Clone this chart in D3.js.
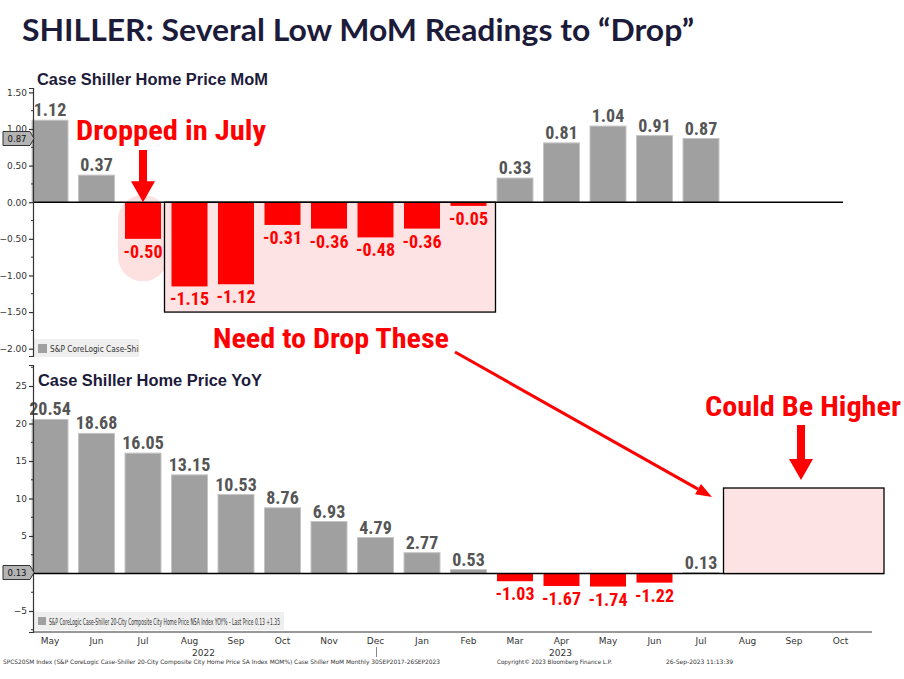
<!DOCTYPE html>
<html>
<head>
<meta charset="utf-8">
<script src="https://cdn.jsdelivr.net/npm/d3@7"></script>
<style>
  html, body { margin: 0; padding: 0; background: #ffffff; }
  svg { display: block; }
</style>
</head>
<body>
<svg id="chart" width="904" height="679"></svg>
<script>
// ---------------- DATA ----------------
const periods = ["2022-05","2022-06","2022-07","2022-08","2022-09","2022-10","2022-11","2022-12",
                 "2023-01","2023-02","2023-03","2023-04","2023-05","2023-06","2023-07","2023-08","2023-09","2023-10"];
const monthLabels = ["May","Jun","Jul","Aug","Sep","Oct","Nov","Dec","Jan","Feb","Mar","Apr","May","Jun","Jul","Aug","Sep","Oct"];
const momValues = [1.12, 0.37, -0.50, -1.15, -1.12, -0.31, -0.36, -0.48, -0.36, -0.05, 0.33, 0.81, 1.04, 0.91, 0.87];
const yoyValues = [20.54, 18.68, 16.05, 13.15, 10.53, 8.76, 6.93, 4.79, 2.77, 0.53, -1.03, -1.67, -1.74, -1.22, 0.13];
const momTicks = [1.5, 1.0, 0.5, 0, -0.5, -1.0, -1.5, -2.0];
const yoyTicks = [25, 20, 15, 10, 5, 0, -5];
const yearLabels = [{label: "2022", period: "2022-08", offset: 0.3}, {label: "2023", period: "2023-04", offset: -0.02}];
const momLast = 0.87;
const yoyLast = 0.13;

// ---------------- SETUP ----------------
const svg = d3.select("#chart");
const navy = "#1d1b3a";
const red = "#ff0000";
const grey = "#a0a0a0";
const pink = "#fde3e3";
const labelFont = "'Liberation Sans Narrow','Arial Narrow','Roboto Condensed','Liberation Sans',sans-serif";
const axisFont = "'DejaVu Sans',Tahoma,sans-serif";

const x = d3.scaleBand().domain(periods).range([26.75, 863.75]).paddingInner(0.226).paddingOuter(0.113);
const xc = p => x(p) + x.bandwidth() / 2;
const yTop = d3.scaleLinear().domain([-2.1, 1.56]).range([356, 88]);
const yBot = d3.scaleLinear().domain([-7.8, 27.8]).range([632, 365]);
const axisX = 33;

// ---------------- TITLE ----------------
svg.append("text").attr("x", 22).attr("y", 41)
  .attr("font-family", "Lato, 'Open Sans', sans-serif").attr("font-weight", 700)
  .attr("font-size", 31).attr("fill", navy)
  .attr("textLength", 672).attr("lengthAdjust", "spacingAndGlyphs")
  .text("SHILLER: Several Low MoM Readings to \u201CDrop\u201D");

// ================= TOP PANEL (MoM) =================
const topG = svg.append("g");
const momData = momValues.map((v, i) => ({p: periods[i], v}));

// pink highlight pill behind Jul 2022
const julP = "2022-07";
topG.append("rect")
  .attr("x", x(julP) - 7).attr("width", x.bandwidth() + 14)
  .attr("y", yTop(0.1)).attr("height", yTop(-1.08) - yTop(0.1))
  .attr("rx", (x.bandwidth() + 14) / 2).attr("fill", "#fde0e0");

// pink box behind Aug 2022 - Feb 2023
const boxX0 = x("2022-08") - 7, boxX1 = x("2023-02") + x.bandwidth() + 9;
topG.append("rect").attr("x", boxX0).attr("y", yTop(0)).attr("width", boxX1 - boxX0)
  .attr("height", yTop(-1.5) - yTop(0)).attr("fill", pink);

// bars
topG.selectAll("rect.bar").data(momData).join("rect").attr("class", "bar")
  .attr("x", d => x(d.p)).attr("width", x.bandwidth())
  .attr("y", d => yTop(Math.max(0, d.v)))
  .attr("height", d => Math.abs(yTop(d.v) - yTop(0)))
  .attr("fill", d => d.v < 0 ? red : grey)
  .attr("stroke", d => d.v < 0 ? "none" : "#c4c4c4").attr("stroke-width", 1);

// box border
topG.append("rect").attr("x", boxX0).attr("y", yTop(0)).attr("width", boxX1 - boxX0)
  .attr("height", yTop(-1.5) - yTop(0)).attr("fill", "none").attr("stroke", "#000").attr("stroke-width", 1.3);

// zero line
topG.append("line").attr("x1", axisX).attr("x2", 843).attr("y1", yTop(0)).attr("y2", yTop(0))
  .attr("stroke", "#000").attr("stroke-width", 1.3);

// value labels
topG.selectAll("text.val").data(momData).join("text").attr("class", "val")
  .attr("x", d => xc(d.p))
  .attr("y", d => d.v >= 0 ? yTop(d.v) - 4 : yTop(d.v) + 19)
  .attr("text-anchor", "middle").attr("font-family", labelFont).attr("font-weight", 700)
  .attr("font-size", 18).attr("fill", d => d.v < 0 ? red : "#555555")
  .text(d => d.v.toFixed(2));

// y axis
const axTop = d3.axisLeft(yTop).tickValues(momTicks).tickSize(4).tickFormat(d3.format(".2f"));
const gTop = svg.append("g").attr("transform", `translate(${axisX},0)`).call(axTop);
const minorTop = d3.range(-2.0, 1.51, 0.25).filter(v => Math.abs(v * 2 - Math.round(v * 2)) > 1e-6);
gTop.selectAll("line.minor").data(minorTop).join("line").attr("class", "minor")
  .attr("x1", -2).attr("x2", 0).attr("y1", d => yTop(d)).attr("y2", d => yTop(d)).attr("stroke", "#333");

// legend top (clipped, as in the reference)
topG.append("rect").attr("x", 34).attr("y", 339).attr("width", 105).attr("height", 18).attr("fill", "#efefef");
topG.append("rect").attr("x", 38).attr("y", 344).attr("width", 9).attr("height", 9).attr("fill", grey);
topG.append("clipPath").attr("id", "legclip").append("rect").attr("x", 34).attr("y", 339).attr("width", 105).attr("height", 18);
topG.append("text").attr("x", 50).attr("y", 352).attr("clip-path", "url(#legclip)")
  .attr("font-family", axisFont).attr("font-size", 8).attr("fill", "#333")
  .attr("textLength", 100).attr("lengthAdjust", "spacingAndGlyphs")
  .text("S&P CoreLogic Case-Shiller");

// subtitle
svg.append("text").attr("x", 37).attr("y", 85).attr("font-family", "'Liberation Sans',Arial,sans-serif")
  .attr("font-weight", 700).attr("font-size", 16).attr("fill", navy)
  .attr("textLength", 231).attr("lengthAdjust", "spacingAndGlyphs")
  .text("Case Shiller Home Price MoM");

// ================= BOTTOM PANEL (YoY) =================
const botG = svg.append("g");
const yoyData = yoyValues.map((v, i) => ({p: periods[i], v}));

botG.selectAll("rect.bar").data(yoyData).join("rect").attr("class", "bar")
  .attr("x", d => x(d.p)).attr("width", x.bandwidth())
  .attr("y", d => yBot(Math.max(0, d.v)))
  .attr("height", d => Math.abs(yBot(d.v) - yBot(0)))
  .attr("fill", d => d.v < 0 ? red : (d.p === "2023-07" ? "#cfcfcf" : grey))
  .attr("stroke", d => d.v < 0 ? "none" : "#c4c4c4").attr("stroke-width", 1);

botG.append("line").attr("x1", axisX).attr("x2", 884).attr("y1", yBot(0)).attr("y2", yBot(0))
  .attr("stroke", "#000").attr("stroke-width", 1.3);

botG.selectAll("text.val").data(yoyData).join("text").attr("class", "val")
  .attr("x", d => xc(d.p))
  .attr("y", d => d.v >= 0 ? yBot(d.v) - 4 : yBot(d.v) + 19)
  .attr("text-anchor", "middle").attr("font-family", labelFont).attr("font-weight", 700)
  .attr("font-size", 18).attr("fill", d => d.v < 0 ? red : "#555555")
  .text(d => d.v.toFixed(2));

const axBot = d3.axisLeft(yBot).tickValues(yoyTicks.filter(t => t !== 0)).tickSize(4).tickFormat(d3.format("d"));
const gBot = svg.append("g").attr("transform", `translate(${axisX},0)`).call(axBot);
const minorBot = d3.range(-7.5, 27.6, 2.5).filter(v => Math.abs(v % 5) > 1e-6);
gBot.selectAll("line.minor").data(minorBot).join("line").attr("class", "minor")
  .attr("x1", -2).attr("x2", 0).attr("y1", d => yBot(d)).attr("y2", d => yBot(d)).attr("stroke", "#333");

[gTop, gBot].forEach(g => {
  g.select(".domain").attr("stroke", "#333").attr("stroke-width", 1.2);
  g.selectAll(".tick line").attr("stroke", "#333").attr("stroke-width", 1.2);
  g.selectAll(".tick text").attr("font-family", axisFont).attr("font-size", 9).attr("fill", "#333").attr("dx", 1);
});

// bottom x axis
const xAxis = d3.axisBottom(x).tickSize(0).tickFormat((d, i) => monthLabels[i]);
const gX = svg.append("g").attr("transform", "translate(0,632)").call(xAxis);
gX.select(".domain").remove();
gX.selectAll(".tick text").attr("font-family", axisFont).attr("font-size", 9).attr("fill", "#333").attr("dy", "0.95em");
svg.append("line").attr("x1", axisX).attr("x2", 872).attr("y1", 632).attr("y2", 632).attr("stroke", "#333").attr("stroke-width", 1.2);
svg.selectAll("text.year").data(yearLabels).join("text").attr("class", "year")
  .attr("x", d => xc(d.period) + d.offset * x.step()).attr("y", 656).attr("text-anchor", "middle")
  .attr("font-family", axisFont).attr("font-size", 9).attr("fill", "#333").text(d => d.label);
const sepX = xc("2022-12") + 1;
svg.append("line").attr("x1", sepX).attr("x2", sepX).attr("y1", 647).attr("y2", 657).attr("stroke", "#888").attr("stroke-width", 1);

// legend bottom
botG.append("rect").attr("x", 34).attr("y", 612).attr("width", 250).attr("height", 18).attr("fill", "#efefef");
botG.append("rect").attr("x", 38).attr("y", 617).attr("width", 8).attr("height", 8).attr("fill", grey);
botG.append("text").attr("x", 49).attr("y", 625)
  .attr("font-family", axisFont).attr("font-size", 8.3).attr("fill", "#333")
  .attr("textLength", 231).attr("lengthAdjust", "spacingAndGlyphs")
  .text("S&P CoreLogic Case-Shiller 20-City Composite City Home Price NSA Index YOY% - Last Price 0.13  +1.35");

// subtitle
svg.append("text").attr("x", 38).attr("y", 386).attr("font-family", "'Liberation Sans',Arial,sans-serif")
  .attr("font-weight", 700).attr("font-size", 16).attr("fill", navy)
  .attr("textLength", 224).attr("lengthAdjust", "spacingAndGlyphs")
  .text("Case Shiller Home Price YoY");

// last price callouts on axes
function callout(yPos, label) {
  const g = svg.append("g");
  g.append("path")
    .attr("d", `M3,${yPos - 7} L30,${yPos - 7} L34,${yPos} L30,${yPos + 7} L3,${yPos + 7} Z`)
    .attr("fill", "#b4b4b4").attr("stroke", "#333").attr("stroke-width", 1);
  g.append("text").attr("x", 17).attr("y", yPos + 3.5).attr("text-anchor", "middle")
    .attr("font-family", axisFont).attr("font-size", 8.5).attr("fill", "#111").text(label);
}
callout(yTop(momLast), momLast.toFixed(2));
callout(yBot(yoyLast), yoyLast.toFixed(2));

// ================= ANNOTATIONS =================
const annFont = labelFont;
function annText(xp, yp, txt, len) {
  svg.append("text").attr("x", xp).attr("y", yp).attr("font-family", annFont).attr("font-weight", 700)
    .attr("font-size", 28).attr("fill", red)
    .attr("textLength", len).attr("lengthAdjust", "spacingAndGlyphs").text(txt);
}
function downArrow(cx, y0, y1) {
  const headH = 21, shaftW = 8, headW = 24;
  svg.append("path")
    .attr("d", `M${cx - shaftW / 2},${y0} L${cx + shaftW / 2},${y0} L${cx + shaftW / 2},${y1 - headH}
      L${cx + headW / 2},${y1 - headH} L${cx},${y1} L${cx - headW / 2},${y1 - headH} L${cx - shaftW / 2},${y1 - headH} Z`)
    .attr("fill", red);
}

annText(76, 140, "Dropped in July", 190);
downArrow(xc(julP), 150, yTop(0));

annText(213, 348, "Need to Drop These", 236);
// diagonal arrow
(function () {
  const x0 = 455, y0 = 352, x1 = 712, y1 = 497;
  const ang = Math.atan2(y1 - y0, x1 - x0);
  const hl = 16, hw = 6;
  const bx = x1 - hl * Math.cos(ang), by = y1 - hl * Math.sin(ang);
  svg.append("line").attr("x1", x0).attr("y1", y0).attr("x2", bx).attr("y2", by)
    .attr("stroke", red).attr("stroke-width", 3);
  svg.append("path").attr("d",
    `M${x1},${y1} L${bx + hw * Math.sin(ang)},${by - hw * Math.cos(ang)} L${bx - hw * Math.sin(ang)},${by + hw * Math.cos(ang)} Z`)
    .attr("fill", red);
})();

// future box in bottom panel
const fbx0 = x("2023-08") - 6;
svg.append("rect").attr("x", fbx0).attr("y", yBot(11.4)).attr("width", 884 - fbx0)
  .attr("height", yBot(0) - yBot(11.4)).attr("fill", pink).attr("stroke", "#000").attr("stroke-width", 1.3);

annText(705, 416, "Could Be Higher", 196);
downArrow(801, 425, 480);

// ================= FOOTER =================
const foot = [
  {x: 3, t: "SPCS20SM Index (S&P CoreLogic Case-Shiller 20-City Composite City Home Price SA Index MOM%) Case Shiller MoM  Monthly 30SEP2017-26SEP2023", len: 437},
  {x: 497, t: "Copyright\u00A9 2023 Bloomberg Finance L.P.", len: 115},
  {x: 666, t: "26-Sep-2023 11:13:39", len: 67}
];
svg.selectAll("text.foot").data(foot).join("text").attr("class", "foot")
  .attr("x", d => d.x).attr("y", 664).attr("font-family", axisFont).attr("font-size", 6).attr("fill", "#333")
  .attr("textLength", d => d.len).attr("lengthAdjust", "spacingAndGlyphs").text(d => d.t);
</script>
</body>
</html>
